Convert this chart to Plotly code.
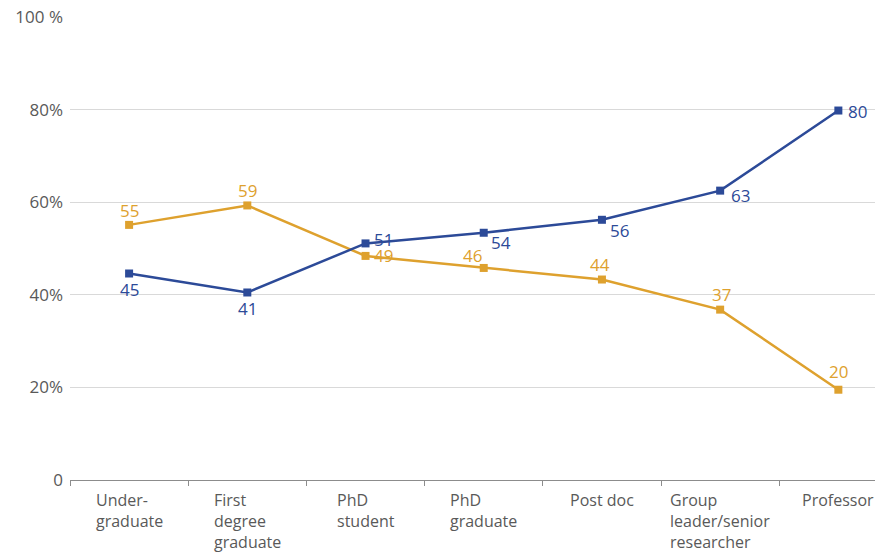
import plotly.graph_objects as go

categories = ["Under-<br>graduate", "First<br>degree<br>graduate", "PhD<br>student",
              "PhD<br>graduate", "Post doc", "Group<br>leader/senior<br>researcher", "Professor"]
blue_values = [44.6, 40.5, 51.1, 53.4, 56.2, 62.5, 79.8]
orange_values = [55.1, 59.3, 48.4, 45.8, 43.3, 36.8, 19.5]
blue_labels = ["45", "41", "51", "54", "56", "63", "80"]
orange_labels = ["55", "59", "49", "46", "44", "37", "20"]
y_tickvals = [0, 20, 40, 60, 80, 100]
y_ticktext = ["0", "20%", "40%", "60%", "80%", "100 %"]

BLUE = "#2C4A98"
ORANGE = "#DEA12E"
FONT = "Open Sans, Lato, sans-serif"

xi = list(range(len(categories)))

# label offsets in pixels (dx, dy) relative to each point, dy positive = up
blue_off = [(0, -16), (0, -16), (18, 4), (17, -10), (18, -11), (20, -5), (19, -1)]
orange_off = [(0, 14), (0, 15), (18, 0), (-11, 12), (-2, 15), (1, 15), (0, 18)]

fig = go.Figure()
fig.add_trace(go.Scatter(
    x=xi, y=orange_values, mode="lines+markers",
    line=dict(color=ORANGE, width=2.5),
    marker=dict(symbol="square", size=8, color=ORANGE),
    cliponaxis=False, showlegend=False, hoverinfo="skip"))
fig.add_trace(go.Scatter(
    x=xi, y=blue_values, mode="lines+markers",
    line=dict(color=BLUE, width=2.5),
    marker=dict(symbol="square", size=8, color=BLUE),
    cliponaxis=False, showlegend=False, hoverinfo="skip"))

for vals, labs, offs, col in [(orange_values, orange_labels, orange_off, ORANGE),
                              (blue_values, blue_labels, blue_off, BLUE)]:
    for i, (v, t, (dx, dy)) in enumerate(zip(vals, labs, offs)):
        fig.add_annotation(x=i, y=v, xref="x", yref="y", text=t, showarrow=False,
                           xanchor="center", yanchor="middle", xshift=dx, yshift=dy,
                           font=dict(size=17, color=col, family=FONT))

for i, c in enumerate(categories):
    fig.add_annotation(x=i, y=0, xref="x", yref="paper", yanchor="top",
                       xanchor="center", yshift=-7, text=c, align="left",
                       showarrow=False,
                       font=dict(size=16, color="#595959", family=FONT))

fig.update_layout(
    width=875, height=556,
    margin=dict(l=70, r=0, t=17, b=76),
    plot_bgcolor="white", paper_bgcolor="white",
    font=dict(family=FONT, color="#595959"),
    xaxis=dict(range=[-0.5, 6.31], showticklabels=False, type="linear",
               tickmode="array", tickvals=[v - 0.5 for v in xi],
               showgrid=False, showline=True, linecolor="#8c8c8c", linewidth=1.2,
               ticks="outside", ticklen=5, tickcolor="#8c8c8c", zeroline=False),
    yaxis=dict(range=[0, 100], tickvals=y_tickvals, ticktext=y_ticktext,
               showgrid=True, gridcolor="#d9d9d9", gridwidth=1.2,
               showline=False, zeroline=False, ticks="", ticklabelstandoff=6,
               tickfont=dict(size=17, color="#595959", family=FONT)),
)

fig.write_html("out.html")
